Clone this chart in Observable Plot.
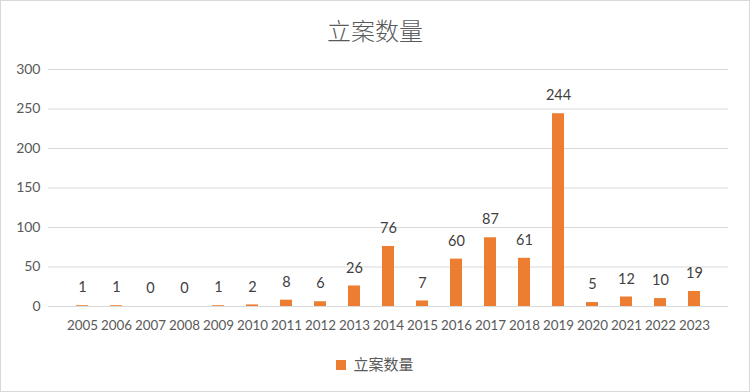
<!DOCTYPE html>
<html><head><meta charset="utf-8">
<script src="https://cdn.jsdelivr.net/npm/d3@7"></script>
<script src="https://cdn.jsdelivr.net/npm/@observablehq/plot@0.6"></script>
<style>
body{margin:0;background:#fff;}
#wrap{width:748px;height:390px;border:1px solid #d9d9d9;position:relative;overflow:hidden;background:#fff;}
#title{height:51px;text-align:center;font-family:"Noto Sans CJK SC",sans-serif;font-size:24px;color:#595959;line-height:58px;font-weight:300;}
#legend{position:absolute;left:0;top:352px;width:748px;text-align:center;font-family:"Noto Sans CJK SC",sans-serif;font-size:15px;color:#595959;}
#legend span.sw{display:inline-block;width:10px;height:10px;background:#ED7D31;margin-right:7px;vertical-align:middle;position:relative;top:-1px;}
</style></head>
<body>
<div id="wrap">
<div id="title">立案数量</div>
<div id="chart"></div>
<div id="legend"><span class="sw"></span><span>立案数量</span></div>
</div>
<script>
const years = ["2005","2006","2007","2008","2009","2010","2011","2012","2013","2014","2015","2016","2017","2018","2019","2020","2021","2022","2023"];
const counts = [1,1,0,0,1,2,8,6,26,76,7,60,87,61,244,5,12,10,19];
const yTicks = [0,50,100,150,200,250,300];
const seriesName = "立案数量";

const data = years.map((y,i)=>({year:y, value:counts[i]}));

const chart = Plot.plot({
  width: 748,
  height: 290,
  marginTop: 17,
  marginBottom: 36,
  marginLeft: 47,
  marginRight: 21,
  style: {fontFamily: "Lato, sans-serif", fontSize: "14px", color: "#595959", background: "transparent"},
  x: {domain: years, padding: 0.66, label: null, tickSize: 0, tickPadding: 14},
  y: {domain: [0,300], ticks: yTicks, label: null, tickSize: 0, tickPadding: 8},
  marks: [
    Plot.gridY(yTicks, {stroke: "#d9d9d9", strokeOpacity: 1, strokeWidth: 1}),
    Plot.barY(data, {x: "year", y: "value", fill: "#ED7D31"}),
    Plot.text(data, {x: "year", y: "value", text: d => String(d.value), dy: -18, fill: "#404040", fontSize: 14.5, fontFamily: "Lato, sans-serif", lineAnchor: "middle"}),
    Plot.axisX({tickSize: 0, tickPadding: 14, fontSize: 13.4, fill: "#595959", label: null}),
    Plot.axisY(yTicks, {tickSize: 0, tickPadding: 8, fontSize: 14, fill: "#595959", label: null})
  ]
});
document.getElementById("chart").appendChild(chart);
</script>
</body></html>
